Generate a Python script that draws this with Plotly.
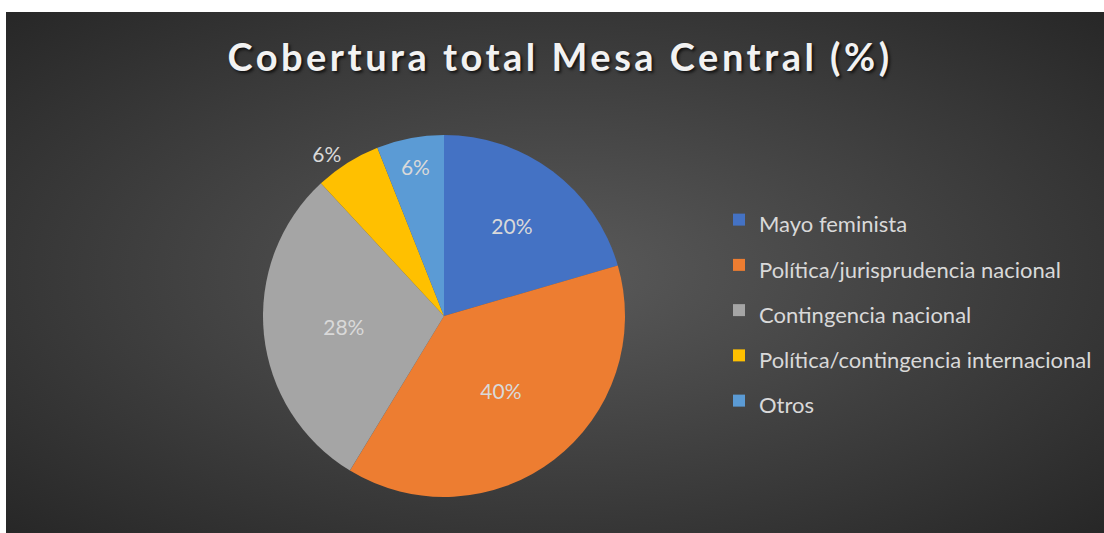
import base64
import plotly.graph_objects as go

categories = ["Mayo feminista", "Política/jurisprudencia nacional", "Contingencia nacional",
              "Política/contingencia internacional", "Otros"]
# slice sizes
values = [20.5, 38.2, 29.4, 5.9, 6.0]
# percentages printed on the slices
label_pct = [20, 40, 28, 6, 6]
colors = ["#4472C4", "#ED7D31", "#A5A5A5", "#FFC000", "#5B9BD5"]
text_pos = ["inside", "inside", "inside", "outside", "inside"]

W, H = 1104, 533
BX, BY, BW, BH = 6, 12, 1098, 521

svg = (f'<svg xmlns="http://www.w3.org/2000/svg" width="{BW}" height="{BH}" viewBox="0 0 {BW} {BH}" '
       f'preserveAspectRatio="none"><defs><radialGradient id="g" cx="0.5" cy="0.5" r="0.72">'
       f'<stop offset="0" stop-color="#5a5a5a"/><stop offset="1" stop-color="#262626"/>'
       f'</radialGradient></defs><rect width="{BW}" height="{BH}" fill="url(#g)"/></svg>')
src = "data:image/svg+xml;base64," + base64.b64encode(svg.encode()).decode()

cx, cy, r = 444, 316, 181

fig = go.Figure(go.Pie(
    labels=[f'<span style="font-size:22px">{c}</span>' for c in categories],
    values=values,
    text=[f"{p}%" for p in label_pct],
    textinfo="text",
    textposition=text_pos,
    insidetextorientation="horizontal",
    sort=False,
    direction="clockwise",
    rotation=0,
    marker=dict(colors=colors, line=dict(width=0)),
    textfont=dict(family="Lato", size=21, color="#D9D9D9"),
    outsidetextfont=dict(family="Lato", size=21, color="#D9D9D9"),
    hoverinfo="label+percent",
    domain=dict(x=[(cx - r) / W, (cx + r) / W], y=[(H - cy - r) / H, (H - cy + r) / H]),
))

fig.update_layout(
    width=W, height=H,
    margin=dict(l=0, r=0, t=0, b=0),
    paper_bgcolor="white",
    images=[dict(source=src, xref="paper", yref="paper", x=BX / W, y=1 - BY / H,
                 sizex=BW / W, sizey=BH / H, sizing="stretch", layer="below",
                 xanchor="left", yanchor="top")],
    title=dict(
        text='<span style="letter-spacing:3.5px">Cobertura total Mesa Central (%)</span>',
        x=560 / W, xanchor="center", y=1 - 58 / H, yanchor="middle",
        font=dict(family="Lato", size=38, color="#F2F2F2", weight="bold",
                  shadow="2px 2px 3px rgba(0,0,0,0.7)"),
    ),
    legend=dict(
        x=719 / W, xanchor="left", y=1 - 310.5 / H, yanchor="middle",
        font=dict(family="Lato", size=32.5, color="#D9D9D9"),
        bgcolor="rgba(0,0,0,0)", itemwidth=30,
    ),
    showlegend=True,
)

fig.write_html("out.html", config={"displayModeBar": False},
               post_script="document.body.style.margin='0';")
